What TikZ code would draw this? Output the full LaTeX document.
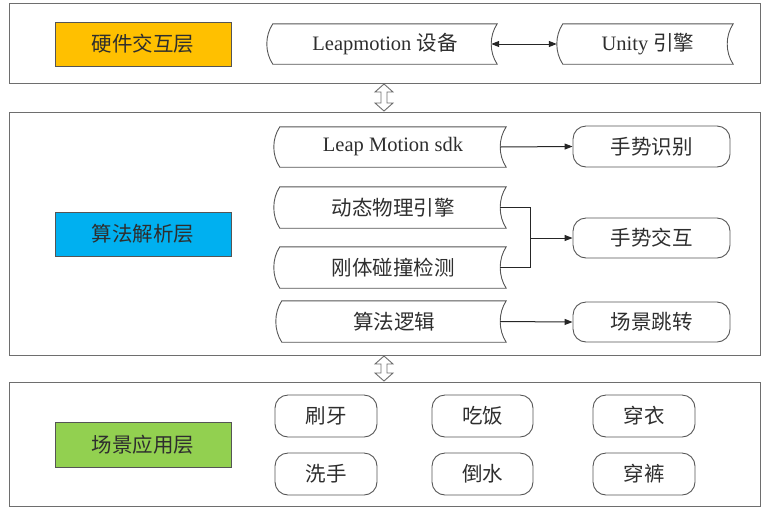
\documentclass[tikz,border=0pt]{standalone}
\usepackage{fontspec}
\setmainfont{Liberation Serif}
\newfontfamily\cjk{Noto Sans CJK SC}
\usetikzlibrary{calc,arrows.meta}
\definecolor{frameC}{HTML}{6E6E6E}
\definecolor{lineC}{HTML}{555555}
\definecolor{txtC}{HTML}{2E2E2E}
\definecolor{orangeC}{HTML}{FFC000}
\definecolor{blueC}{HTML}{00B0F0}
\definecolor{greenC}{HTML}{92D050}
\newcommand\tapeoutline[1]{\draw[shapeline] (#1.north west) -- (#1.north east)
  .. controls ($(#1.north east)+(-8,12)$) and ($(#1.south east)+(-8,-12)$) .. (#1.south east)
  -- (#1.south west)
  .. controls ($(#1.south west)+(-8,-12)$) and ($(#1.north west)+(-8,12)$) .. (#1.north west) -- cycle;}
\begin{document}
\begin{tikzpicture}[x=1pt,y=-1pt,
  layer/.style={draw=frameC, line width=1pt},
  label/.style={draw=lineC, line width=0.9pt, minimum width=176, minimum height=44, inner sep=0pt, text=txtC, font=\fontsize{20.5}{24}\selectfont\cjk},
  tapebox/.style={minimum height=40, inner sep=0pt, text=txtC, font=\fontsize{20.5}{24}\selectfont},
  shapeline/.style={draw=lineC, line width=0.9pt},
  roundbox/.style={draw=lineC, line width=0.9pt, rounded corners=13pt, minimum height=41, inner sep=0pt, text=txtC, font=\fontsize{20.5}{24}\selectfont\cjk},
  conn/.style={draw=black!85, line width=1pt},
  arr/.style={conn, -{Triangle[length=8pt,width=6pt]}},
  dblarr/.style={draw=frameC, line width=0.9pt, fill=white, line join=miter}
]
\useasboundingbox (0,0) rectangle (762,507);
% layer frames
\draw[layer] (9,3) rectangle (760,83);
\draw[layer] (9,112) rectangle (760,355);
\draw[layer] (9,382) rectangle (760,506);
% layer labels
\node[label, fill=orangeC] (hw) at (143,44) {硬件交互层};
\node[label, fill=blueC] (alglayer) at (143,234) {算法解析层};
\node[label, fill=greenC, minimum height=45] (app) at (143,444.5) {场景应用层};
% hardware layer
\node[tapebox, minimum width=224] (lm) at (385,44) {Leapmotion {\cjk 设备}};
\node[tapebox, minimum width=170] (unity) at (648,44) {Unity {\cjk 引擎}};
\tapeoutline{lm}
\tapeoutline{unity}
\draw[conn, {Triangle[length=8pt,width=6pt]}-{Triangle[length=8pt,width=6pt]}] ($(lm.east)+(-6,0)$) -- ($(unity.west)+(-6,0)$);
% algorithm layer
\node[tapebox, minimum width=226] (sdk) at (393,147) {Leap Motion sdk};
\node[tapebox, minimum width=226, minimum height=41] (dyn) at (393,207.5) {\cjk 动态物理引擎};
\node[tapebox, minimum width=226, minimum height=41] (rig) at (393,267.5) {\cjk 刚体碰撞检测};
\node[tapebox, minimum width=224, minimum height=41] (alg) at (394,321.5) {\cjk 算法逻辑};
\tapeoutline{sdk}
\tapeoutline{dyn}
\tapeoutline{rig}
\tapeoutline{alg}
\node[roundbox, minimum width=157] (rec) at (651.5,146.5) {手势识别};
\node[roundbox, minimum width=157, minimum height=40] (inter) at (651.5,238) {手势交互};
\node[roundbox, minimum width=157, minimum height=40] (jump) at (651.5,322) {场景跳转};
\draw[arr] ($(sdk.east)+(-6,0)$) -- (rec.west);
\coordinate (jt) at (530,207.5);
\coordinate (jb) at (530,267.5);
\coordinate (jm) at (530,238);
\draw[conn] ($(dyn.east)+(-6,0)$) -- (jt) -- (jb) -- ($(rig.east)+(-6,0)$);
\draw[arr] (jm) -- (inter.west);
\draw[arr] ($(alg.east)+(-6,0)$) -- (jump.west);
% application layer
\node[roundbox, minimum width=102, minimum height=42] (s1) at (326,416) {刷牙};
\node[roundbox, minimum width=101, minimum height=42] (s2) at (482.5,416) {吃饭};
\node[roundbox, minimum width=102, minimum height=42] (s3) at (644,416) {穿衣};
\node[roundbox, minimum width=102, minimum height=42] (s4) at (326,474) {洗手};
\node[roundbox, minimum width=101, minimum height=42] (s5) at (482.5,474) {倒水};
\node[roundbox, minimum width=102, minimum height=42] (s6) at (644,474) {穿裤};
% double arrows between layers
\draw[dblarr] (384,84) -- (393,92) -- (387,92) -- (387,103) -- (393,103) -- (384,111) -- (375,103) -- (381,103) -- (381,92) -- (375,92) -- cycle;
\draw[dblarr] (384,356) -- (393,364) -- (387,364) -- (387,373) -- (393,373) -- (384,381) -- (375,373) -- (381,373) -- (381,364) -- (375,364) -- cycle;
\end{tikzpicture}
\end{document}
